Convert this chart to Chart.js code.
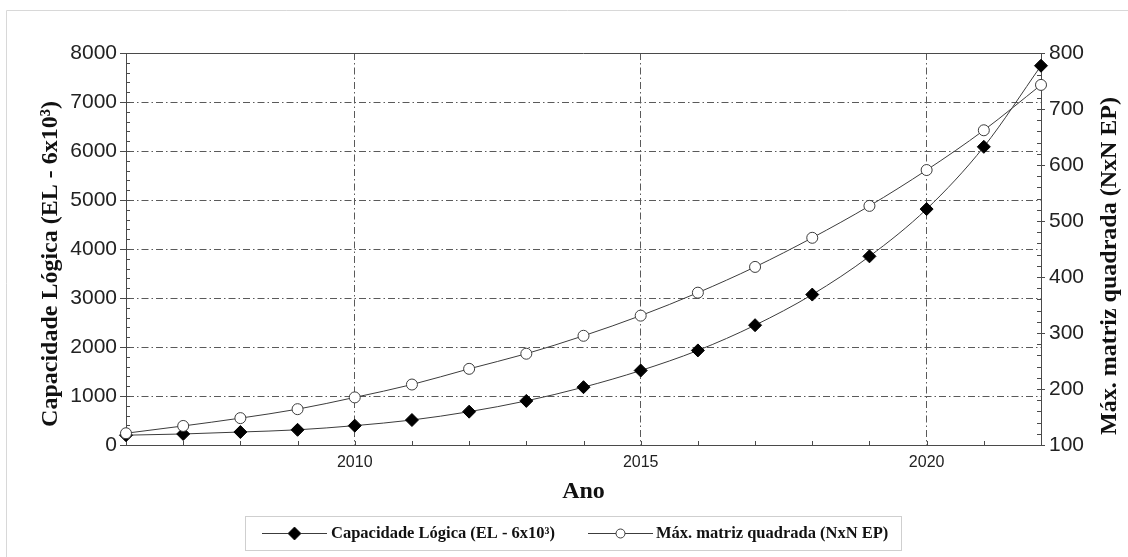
<!DOCTYPE html>
<html>
<head>
<meta charset="utf-8">
<script src="https://cdn.jsdelivr.net/npm/chart.js@4.4.0/dist/chart.umd.min.js"></script>
<style>
  html, body { margin: 0; padding: 0; background: #fff; }
  #wrap { width: 1128px; height: 557px; }
</style>
</head>
<body>
<div id="wrap"><canvas id="grafico" width="1128" height="557"></canvas></div>
<script>
// dados
const anos = [2006, 2007, 2008, 2009, 2010, 2011, 2012, 2013, 2014, 2015, 2016, 2017, 2018, 2019, 2020, 2021, 2022];
const capacidade = [200, 225, 265, 310, 395, 510, 680, 900, 1180, 1520, 1930, 2445, 3070, 3850, 4815, 6085, 7740];
const matriz = [121, 134, 148, 164, 185, 208, 236, 263, 295, 331, 372, 418, 470, 527, 591, 662, 743];
const anosRotulo = [2010, 2015, 2020];

const serieCap = 'Capacidade Lógica (EL - 6x10³)';
const serieMat = 'Máx. matriz quadrada (NxN EP)';

const corLinha = '#3c3c3c';
const corEixo = '#4a4a4a';
const corGrade = '#5a5a5a';
const tracoPonto = [7, 3, 1.5, 3];

// ticks menores, moldura, titulos verticais e legenda
const extras = {
    id: 'extras',
    beforeDraw(chart) {
        const ctx = chart.ctx;
        ctx.save();
        ctx.strokeStyle = '#d8d8d8';
        ctx.lineWidth = 1;
        ctx.beginPath();
        ctx.moveTo(6.5, 557);
        ctx.lineTo(6.5, 10.5);
        ctx.lineTo(1128, 10.5);
        ctx.stroke();
        ctx.restore();
    },
    beforeDatasetsDraw(chart) {
        const { ctx, chartArea: a, scales } = chart;
        ctx.save();
        ctx.strokeStyle = corEixo;
        ctx.lineWidth = 1;
        ctx.beginPath();
        // borda superior
        ctx.moveTo(a.left, Math.round(a.top) + 0.5);
        ctx.lineTo(a.right, Math.round(a.top) + 0.5);
        for (let v = anos[0]; v <= anos[anos.length - 1]; v++) {
            const x = Math.round(scales.x.getPixelForValue(v)) + 0.5;
            ctx.moveTo(x, a.bottom);
            ctx.lineTo(x, a.bottom - 4);
        }
        for (let v = 0; v <= 8000; v += 200) {
            const y = Math.round(scales.y.getPixelForValue(v)) + 0.5;
            ctx.moveTo(a.left, y);
            ctx.lineTo(a.left + 4, y);
        }
        for (let v = 100; v <= 800; v += 20) {
            const y = Math.round(scales.y1.getPixelForValue(v)) + 0.5;
            ctx.moveTo(a.right, y);
            ctx.lineTo(a.right - 4, y);
        }
        ctx.stroke();
        ctx.restore();
    },
    afterDraw(chart) {
        const { ctx, chartArea: a } = chart;
        ctx.save();
        ctx.fillStyle = '#111';
        ctx.font = 'bold 24px "Liberation Serif"';
        ctx.textAlign = 'center';
        ctx.textBaseline = 'middle';
        const meio = (a.top + a.bottom) / 2 + 15;
        ctx.translate(51, meio);
        ctx.rotate(-Math.PI / 2);
        ctx.fillText(serieCap, 0, 0);
        ctx.restore();

        ctx.save();
        ctx.fillStyle = '#111';
        ctx.font = 'bold 24px "Liberation Serif"';
        ctx.textAlign = 'center';
        ctx.textBaseline = 'middle';
        ctx.translate(1110, meio + 2);
        ctx.rotate(-Math.PI / 2);
        ctx.fillText(serieMat, 0, 0);
        ctx.restore();

        // legenda
        ctx.save();
        ctx.strokeStyle = '#cfcfcf';
        ctx.lineWidth = 1;
        ctx.strokeRect(245.5, 516.5, 656, 34);
        const yl = 533.5;
        ctx.strokeStyle = corLinha;
        ctx.beginPath();
        ctx.moveTo(262, yl); ctx.lineTo(327, yl);
        ctx.moveTo(588, yl); ctx.lineTo(653, yl);
        ctx.stroke();
        Chart.helpers.drawPoint(ctx, { pointStyle: 'rectRot', radius: 6.5, borderWidth: 1 }, 294.5, yl);
        ctx.fillStyle = '#000';
        ctx.fill();
        ctx.fillStyle = '#fff';
        ctx.strokeStyle = corLinha;
        Chart.helpers.drawPoint(ctx, { pointStyle: 'circle', radius: 4.5, borderWidth: 1 }, 620.5, yl);
        ctx.fillStyle = '#111';
        ctx.font = 'bold 16.5px "Liberation Serif"';
        ctx.textAlign = 'left';
        ctx.textBaseline = 'middle';
        ctx.fillText(serieCap, 331, yl);
        ctx.fillText(serieMat, 656, yl);
        ctx.restore();
    }
};

const pontosCap = anos.map((a, i) => ({ x: a, y: capacidade[i] }));
const pontosMat = anos.map((a, i) => ({ x: a, y: matriz[i] }));

const config = {
    type: 'line',
    data: {
        datasets: [{
            label: serieCap,
            data: pontosCap,
            yAxisID: 'y',
            order: 2,
            borderColor: corLinha,
            borderWidth: 1,
            backgroundColor: '#000',
            pointStyle: 'rectRot',
            pointRadius: 6.5,
            pointBorderColor: '#000',
            pointBackgroundColor: '#000',
            pointBorderWidth: 1,
            cubicInterpolationMode: 'monotone',
            fill: false
        }, {
            label: serieMat,
            data: pontosMat,
            yAxisID: 'y1',
            order: 1,
            borderColor: corLinha,
            borderWidth: 1,
            pointStyle: 'circle',
            pointRadius: 5.5,
            pointBorderColor: corLinha,
            pointBackgroundColor: '#fff',
            pointBorderWidth: 1,
            cubicInterpolationMode: 'monotone',
            fill: false
        }]
    },
    options: {
        responsive: false,
        animation: false,
        clip: false,
        layout: { padding: { left: 6, right: 0, top: 53, bottom: 51 } },
        plugins: {
            legend: { display: false },
            tooltip: { enabled: false }
        },
        scales: {
            x: {
                type: 'linear',
                min: 2006,
                max: 2022,
                afterFit: s => { s.height = 61; },
                ticks: {
                    stepSize: 1,
                    autoSkip: false,
                    maxRotation: 0,
                    padding: 8,
                    color: '#222',
                    font: { family: '"Liberation Sans"', size: 16 },
                    callback: v => anosRotulo.includes(v) ? String(v) : ''
                },
                grid: {
                    drawTicks: false,
                    color: c => anosRotulo.includes(c.tick.value) ? corGrade : 'rgba(0,0,0,0)'
                },
                border: { display: true, color: corEixo, width: 1, dash: tracoPonto },
                title: {
                    display: true,
                    text: 'Ano',
                    color: '#111',
                    padding: { top: 0, bottom: 0 },
                    font: { family: '"Liberation Serif"', size: 24, weight: 'bold' }
                }
            },
            y: {
                position: 'left',
                min: 0,
                max: 8000,
                afterFit: s => { s.width = 120; },
                ticks: {
                    stepSize: 1000,
                    padding: 3,
                    color: '#222',
                    font: { family: '"Liberation Sans"', size: 21 },
                    callback: v => String(v)
                },
                grid: {
                    tickLength: 6,
                    tickColor: corEixo,
                    color: c => (c.tick && c.tick.value > 0 && c.tick.value < 8000) ? corGrade : 'rgba(0,0,0,0)'
                },
                border: { display: true, color: corEixo, width: 1, dash: tracoPonto }
            },
            y1: {
                position: 'right',
                min: 100,
                max: 800,
                afterFit: s => { s.width = 87; },
                ticks: {
                    stepSize: 100,
                    padding: 4,
                    color: '#222',
                    font: { family: '"Liberation Sans"', size: 21 },
                    callback: v => String(v)
                },
                grid: {
                    drawOnChartArea: false,
                    tickLength: 4,
                    tickColor: corEixo
                },
                border: { display: true, color: corEixo, width: 1 }
            }
        }
    },
    plugins: [extras]
};

const grafico = new Chart(document.getElementById('grafico'), config);
</script>
</body>
</html>
